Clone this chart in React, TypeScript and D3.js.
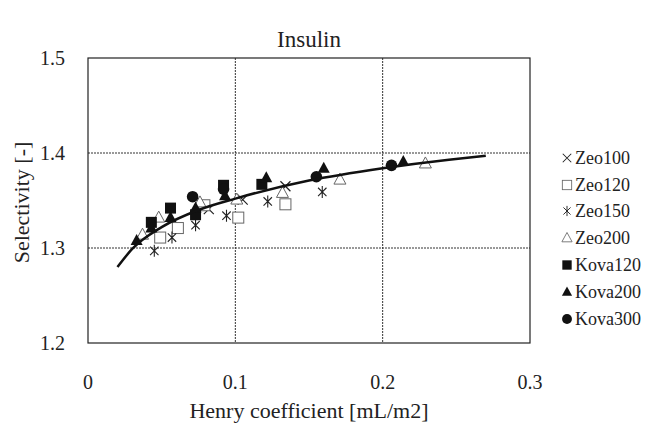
import React from "react";
import * as d3 from "d3";

const xTicks = [0, 0.1, 0.2, 0.3];
const yTicks = [1.2, 1.3, 1.4, 1.5];
const xGrid = [0.1, 0.2];
const yGrid = [1.3, 1.4];

const zeo100 = [[0.082, 1.341], [0.105, 1.351], [0.134, 1.365]];
const zeo120 = [[0.049, 1.311], [0.061, 1.321], [0.079, 1.345], [0.102, 1.332], [0.134, 1.346]];
const zeo150 = [[0.045, 1.297], [0.057, 1.311], [0.073, 1.324], [0.094, 1.334], [0.122, 1.349], [0.159, 1.359]];
const zeo200 = [[0.037, 1.314], [0.048, 1.332], [0.076, 1.348], [0.101, 1.351], [0.132, 1.358], [0.171, 1.372], [0.229, 1.389]];
const kova120 = [[0.043, 1.327], [0.056, 1.342], [0.073, 1.335], [0.092, 1.366], [0.118, 1.367]];
const kova200 = [[0.033, 1.308], [0.043, 1.321], [0.056, 1.332], [0.073, 1.342], [0.093, 1.355], [0.121, 1.374], [0.160, 1.384], [0.214, 1.391]];
const kova300 = [[0.071, 1.354], [0.092, 1.362], [0.155, 1.375], [0.206, 1.387]];
const trend = [[0.02, 1.28], [0.03, 1.299], [0.05, 1.322], [0.075, 1.34], [0.1, 1.352], [0.15, 1.371], [0.2, 1.384], [0.245, 1.393], [0.27, 1.397]];

const seriesNames = ["Zeo100", "Zeo120", "Zeo150", "Zeo200", "Kova120", "Kova200", "Kova300"];
const seriesData = [zeo100, zeo120, zeo150, zeo200, kova120, kova200, kova300];

const W = 649, H = 423;
const L = 88, R = 530, T = 58, B = 343;
const FONT = "'Liberation Serif', 'Times New Roman', serif";

function Marker({ kind, x, y }: { kind: string; x: number; y: number }) {
  switch (kind) {
    case "Zeo100": {
      const s = 5;
      return <path d={`M${x - s},${y - s}L${x + s},${y + s}M${x - s},${y + s}L${x + s},${y - s}`} stroke="#222" strokeWidth={1.2} fill="none" />;
    }
    case "Zeo120":
      return <rect x={x - 5.5} y={y - 5.5} width={11} height={11} fill="white" stroke="#666" strokeWidth={1} />;
    case "Zeo150": {
      const s = 6, d = 4.2;
      return <path d={`M${x},${y - s}L${x},${y + s}M${x - d},${y - d}L${x + d},${y + d}M${x - d},${y + d}L${x + d},${y - d}`} stroke="#222" strokeWidth={1.1} fill="none" />;
    }
    case "Zeo200":
      return <path d={`M${x},${y - 6.5}L${x + 6},${y + 4.5}L${x - 6},${y + 4.5}Z`} fill="white" stroke="#666" strokeWidth={1} />;
    case "Kova120":
      return <rect x={x - 5.5} y={y - 5.5} width={11} height={11} fill="#111" />;
    case "Kova200":
      return <path d={`M${x},${y - 6.5}L${x + 6},${y + 4.5}L${x - 6},${y + 4.5}Z`} fill="#111" />;
    default:
      return <circle cx={x} cy={y} r={5.8} fill="#111" />;
  }
}

export default function App() {
  const x = d3.scaleLinear().domain([0, 0.3]).range([L, R]);
  const y = d3.scaleLinear().domain([1.2, 1.5]).range([B, T]);
  const line = d3.line<number[]>().x(d => x(d[0])).y(d => y(d[1])).curve(d3.curveMonotoneX);
  const legendY = [158, 185, 211, 238, 265, 292, 319];
  const ts = { fontFamily: FONT };

  return (
    <svg width={W} height={H} style={{ position: "absolute", left: 0, top: 0, background: "white", fontFamily: FONT }}>
      <rect x={0} y={0} width={W} height={H} fill="white" />
      {xGrid.map(v => (
        <line key={"xg" + v} x1={x(v)} x2={x(v)} y1={T} y2={B} stroke="#333" strokeWidth={1} strokeDasharray="2,1" />
      ))}
      {yGrid.map(v => (
        <line key={"yg" + v} x1={L} x2={R} y1={y(v)} y2={y(v)} stroke="#333" strokeWidth={1} strokeDasharray="2,1" />
      ))}
      <rect x={L} y={T} width={R - L} height={B - T} fill="none" stroke="#222" strokeWidth={1.2} />
      {xTicks.map(v => (
        <text key={"xt" + v} style={ts} x={x(v)} y={389} textAnchor="middle" fontSize={20} fill="#222">{String(v)}</text>
      ))}
      {yTicks.map(v => (
        <text key={"yt" + v} style={ts} x={65} y={y(v) + 7} textAnchor="end" fontSize={20} fill="#222">{v.toFixed(1)}</text>
      ))}
      <text style={ts} x={309} y={47} textAnchor="middle" fontSize={23} fill="#222">Insulin</text>
      <text style={ts} x={309} y={418} textAnchor="middle" fontSize={22} fill="#222">Henry coefficient [mL/m2]</text>
      <text style={ts} transform={`translate(29,${(T + B) / 2 + 2}) rotate(-90)`} textAnchor="middle" fontSize={22} fill="#222">Selectivity [-]</text>
      {seriesData.map((data, i) => (
        <g key={seriesNames[i]}>
          {data.map((d, j) => (
            <Marker key={j} kind={seriesNames[i]} x={x(d[0])} y={y(d[1])} />
          ))}
        </g>
      ))}
      <path d={line(trend) || ""} fill="none" stroke="#111" strokeWidth={2.5} />
      {seriesNames.map((n, i) => (
        <g key={"lg" + n}>
          <g transform={`translate(567,${legendY[i]}) scale(0.85)`}>
            <Marker kind={n} x={0} y={0} />
          </g>
          <text style={ts} x={575} y={legendY[i] + 6} fontSize={18} fill="#222">{n}</text>
        </g>
      ))}
    </svg>
  );
}
